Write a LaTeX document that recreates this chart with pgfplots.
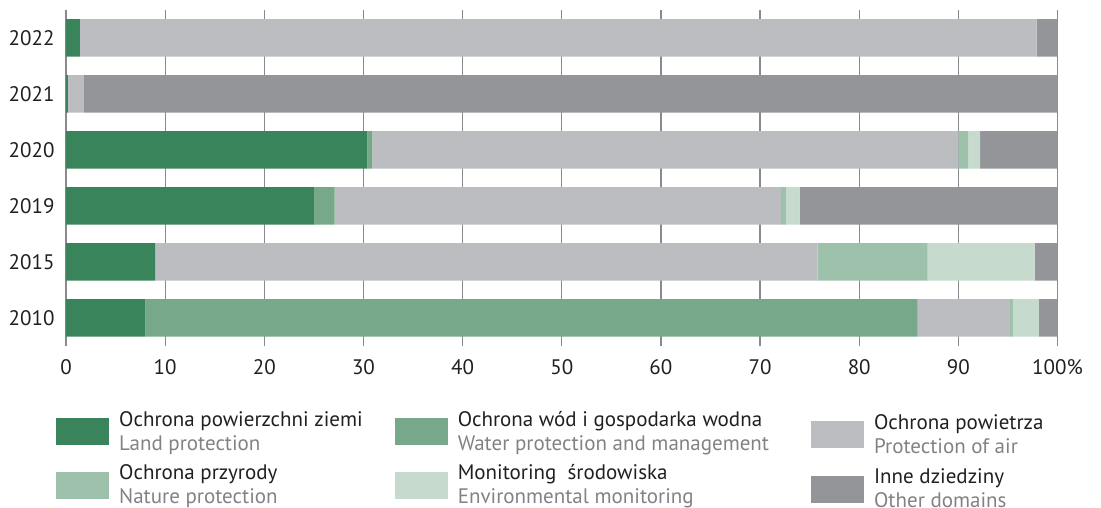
\documentclass[border=0pt]{standalone}
\usepackage{pgfplots}
\pgfplotsset{compat=1.18}
\usepackage{fontspec}
\setmainfont{PT Sans}
\definecolor{land}{HTML}{3A845C}
\definecolor{water}{HTML}{76A889}
\definecolor{air}{HTML}{BCBDC1}
\definecolor{nature}{HTML}{9DC1AA}
\definecolor{monit}{HTML}{C6DACD}
\definecolor{other}{HTML}{949599}
\definecolor{txt}{HTML}{231F20}
\definecolor{eng}{HTML}{808285}
\definecolor{gridgray}{HTML}{8A8A8C}
\pgfplotsset{
  patchA/.style={legend image code/.code={\fill[##1] (0pt,-16.5pt) rectangle (53pt,10.5pt);}},
  patchB/.style={legend image code/.code={\fill[##1] (0pt,-17.5pt) rectangle (53pt,9.5pt);}},
}
\begin{document}
\begin{tikzpicture}
\begin{axis}[
  scale only axis, width=991.5pt, height=336pt,
  xbar stacked, bar width=37.5pt,
  xmin=0, xmax=100, ymin=-0.5, ymax=5.5,
  xtick={0,10,...,100},
  xticklabels={0,10,20,30,40,50,60,70,80,90,100\%},
  ytick={0,1,2,3,4,5},
  yticklabels={2010,2015,2019,2020,2021,2022},
  axis line style={draw=none},
  major tick length=0pt,
  xmajorgrids, grid style={draw=gridgray, line width=1.2pt},
  tick label style={font=\fontsize{21}{25}\selectfont, text=txt},
  xticklabel style={yshift=-10pt},
  yticklabel style={xshift=-8pt},
  legend columns=3,
  legend cell align=left,
  legend image code/.code={\fill[#1] (0pt,-13.5pt) rectangle (53pt,13.5pt);},
  legend style={draw=none, fill=none, at={(0,0)}, anchor=north west,
    xshift=-13pt, yshift=-61pt,
    font=\fontsize{21}{24}\selectfont,
    text=txt,
    cells={align=left},
    /tikz/row sep=6pt,
    /tikz/every odd column/.append style={column sep=8pt},
    /tikz/column 2/.append style={column sep=30pt},
    /tikz/column 4/.append style={column sep=40pt}},
]
\addplot[fill=land, draw=none] coordinates {(8.0,0) (9.0,1) (25.0,2) (30.4,3) (0.2,4) (1.4,5)};
\addlegendentry{Ochrona powierzchni ziemi\\\textcolor{eng}{Land protection}}
\addplot[fill=water, draw=none] coordinates {(77.9,0) (0,1) (2.1,2) (0.5,3) (0,4) (0,5)};
\addlegendentry{Ochrona wód i gospodarka wodna\\\textcolor{eng}{Water protection and management}}
\addplot[fill=air, draw=none, patchA] coordinates {(9.3,0) (66.8,1) (45.0,2) (59.1,3) (1.6,4) (96.5,5)};
\addlegendentry[yshift=-3pt]{Ochrona powietrza\\\textcolor{eng}{Protection of air}}
\addplot[fill=nature, draw=none] coordinates {(0.3,0) (11.1,1) (0.5,2) (1.0,3) (0,4) (0,5)};
\addlegendentry{Ochrona przyrody\\\textcolor{eng}{Nature protection}}
\addplot[fill=monit, draw=none] coordinates {(2.6,0) (10.8,1) (1.4,2) (1.2,3) (0,4) (0,5)};
\addlegendentry{Monitoring\ \ środowiska\\\textcolor{eng}{Environmental monitoring}}
\addplot[fill=other, draw=none, patchB] coordinates {(1.9,0) (2.3,1) (26.0,2) (7.8,3) (98.2,4) (2.1,5)};
\addlegendentry[yshift=-4pt]{Inne dziedziny\\\textcolor{eng}{Other domains}}
\end{axis}
\pgfresetboundingbox
\path[use as bounding box] (-66pt,-162pt) rectangle (1035pt,346pt);
\end{tikzpicture}
\end{document}
